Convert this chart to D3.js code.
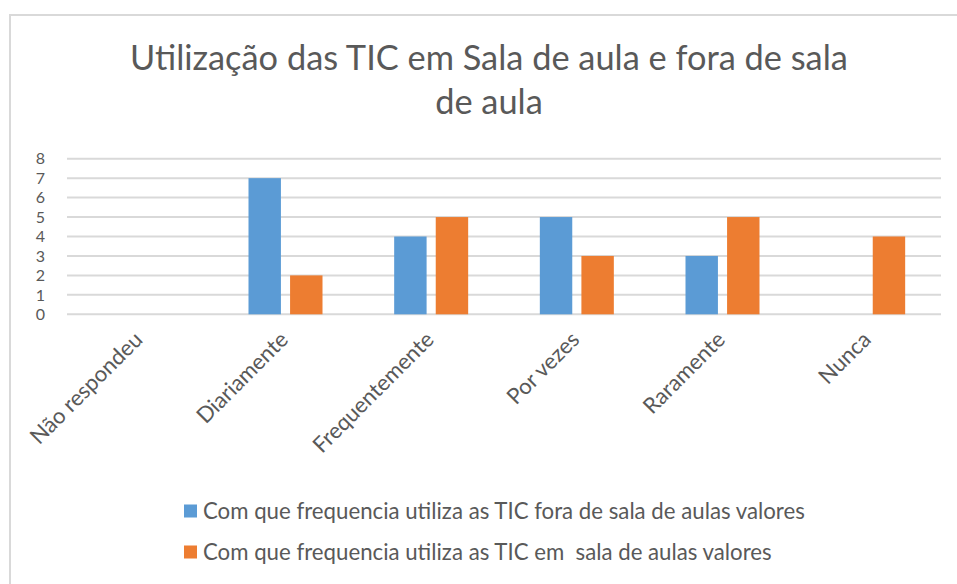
<!DOCTYPE html>
<html>
<head>
<meta charset="utf-8">
<script src="https://cdn.jsdelivr.net/npm/d3@7"></script>
<style>
  body { margin: 0; background: #fff; }
  text { font-family: Lato, "Open Sans", sans-serif; fill: #595959; white-space: pre; }
</style>
</head>
<body>
<svg id="chart" width="957" height="584"></svg>
<script>
// data
const categories = ["Não respondeu", "Diariamente", "Frequentemente", "Por vezes", "Raramente", "Nunca"];
const seriesNames = [
    "Com que frequencia utiliza as TIC fora de sala de aulas valores",
    "Com que frequencia utiliza as TIC em  sala de aulas valores"
];
const foraValues = [0, 7, 4, 5, 3, 0];
const emValues = [0, 2, 5, 3, 5, 4];
const yTicks = [0, 1, 2, 3, 4, 5, 6, 7, 8];
const colors = ["#5B9BD5", "#ED7D31"];

const svg = d3.select("#chart");

// set font size so a text fills a given width
function fitWidth(sel, target) {
    sel.style("font-size", "20px");
    let w = sel.node().getComputedTextLength();
    let fs = 20 * target / w;
    sel.style("font-size", fs + "px");
    return fs;
}

// chart frame
svg.append("rect")
    .attr("x", 10).attr("y", 15)
    .attr("width", 960).attr("height", 600)
    .attr("fill", "none")
    .attr("stroke", "#d9d9d9")
    .attr("stroke-width", 2);

// title
let t1 = svg.append("text")
    .attr("x", 489).attr("y", 70)
    .attr("text-anchor", "middle")
    .text("Utilização das TIC em Sala de aula e fora de sala");
let titleSize = fitWidth(t1, 718);
svg.append("text")
    .attr("x", 489).attr("y", 114)
    .attr("text-anchor", "middle")
    .style("font-size", titleSize + "px")
    .text("de aula");

// scales
let x = d3.scaleBand().domain(categories).range([67, 941]);
let x1 = d3.scaleBand()
    .domain([0, 1])
    .range([x.bandwidth() / 2 - 37, x.bandwidth() / 2 + 37])
    .paddingInner(0.22);
let y = d3.scaleLinear().domain([0, 8]).range([314.3, 158.7]);

// gridlines
svg.append("g")
    .selectAll("line")
    .data(yTicks)
    .join("line")
    .attr("x1", 67).attr("x2", 941)
    .attr("y1", d => y(d)).attr("y2", d => y(d))
    .attr("stroke", "#d9d9d9")
    .attr("stroke-width", 2);

// y labels
svg.append("g")
    .selectAll("text")
    .data(yTicks)
    .join("text")
    .attr("x", 45)
    .attr("y", d => y(d))
    .attr("dy", "0.36em")
    .attr("text-anchor", "end")
    .style("font-size", "16px")
    .text(d => d);

// bars
[foraValues, emValues].forEach(function (vals, s) {
    svg.append("g")
        .selectAll("rect")
        .data(vals)
        .join("rect")
        .attr("x", (d, i) => x(categories[i]) + x1(s))
        .attr("width", x1.bandwidth())
        .attr("y", d => y(d))
        .attr("height", d => y(0) - y(d))
        .attr("fill", colors[s]);
});

// x labels, rotated
let xl = svg.append("g")
    .selectAll("text")
    .data(categories)
    .join("text")
    .attr("text-anchor", "end")
    .attr("transform", d => "translate(" + (x(d) + x.bandwidth() / 2 + 4) + ",341) rotate(-45)")
    .text(d => d);
let xs = fitWidth(d3.select(xl.nodes()[0]), 148);
xl.style("font-size", xs + "px");

// legend
let lg = svg.append("g");
seriesNames.forEach(function (name, s) {
    let cy = 511 + s * 41;
    lg.append("rect")
        .attr("x", 184).attr("y", cy - 6.5)
        .attr("width", 13).attr("height", 13)
        .attr("fill", colors[s]);
    lg.append("text")
        .attr("class", "leg")
        .attr("x", 203).attr("y", cy)
        .attr("dy", "0.35em")
        .text(name);
});
let legSize = fitWidth(lg.select("text.leg"), 602);
lg.selectAll("text.leg").style("font-size", legSize + "px");
</script>
</body>
</html>
